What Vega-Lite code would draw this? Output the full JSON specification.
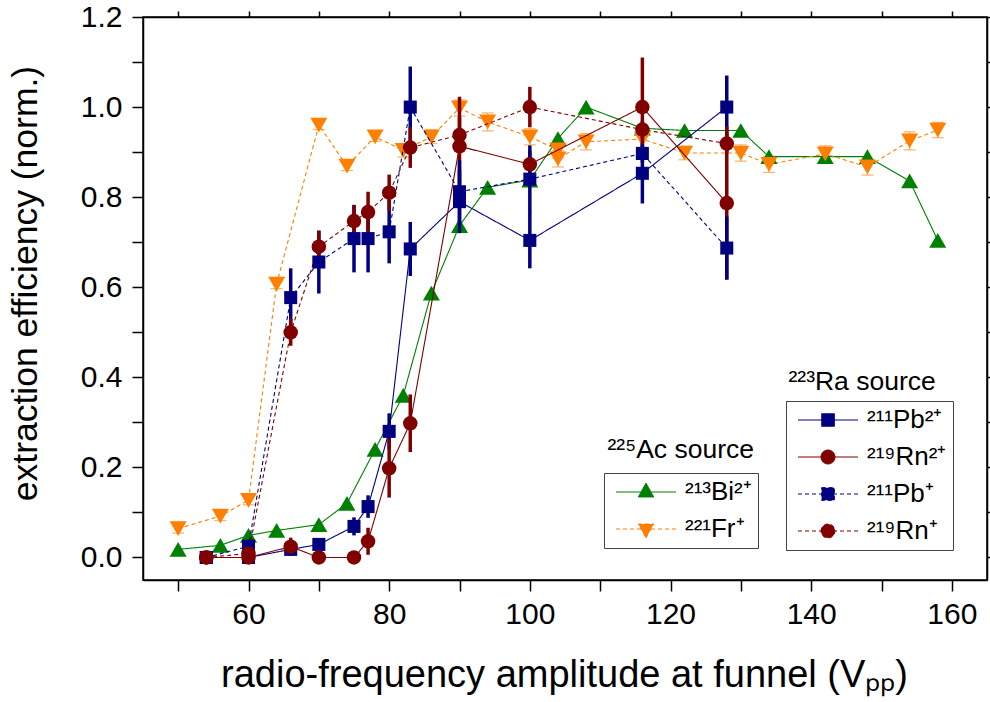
{
  "$schema": "https://vega.github.io/schema/vega-lite/v6.json",
  "width": 844,
  "height": 563,
  "autosize": {"type": "none"},
  "padding": {"left": 143, "top": 17, "right": 3, "bottom": 122},
  "config": {
    "font": "Liberation Sans",
    "view": {"stroke": "black", "strokeWidth": 1.5},
    "axis": {"grid": false, "domainColor": "black", "domainWidth": 1.5, "tickColor": "black", "tickWidth": 1.5, "labelColor": "black", "titleColor": "black", "labelFont": "Liberation Sans", "titleFont": "Liberation Sans", "titleFontWeight": "normal", "labelFontSize": 30, "titleFontSize": 31},
    "legend": {"labelFont": "Liberation Sans", "labelFontSize": 26, "labelColor": "black", "labelLimit": 0}
  },
  "datasets": {
    "ac": [
      {"ion": "²¹³Bi²⁺", "source": "²²⁵Ac source", "x": 50, "y": 0.018},
      {"ion": "²¹³Bi²⁺", "source": "²²⁵Ac source", "x": 56, "y": 0.027},
      {"ion": "²¹³Bi²⁺", "source": "²²⁵Ac source", "x": 60, "y": 0.049},
      {"ion": "²¹³Bi²⁺", "source": "²²⁵Ac source", "x": 64, "y": 0.06},
      {"ion": "²¹³Bi²⁺", "source": "²²⁵Ac source", "x": 70, "y": 0.073},
      {"ion": "²¹³Bi²⁺", "source": "²²⁵Ac source", "x": 74, "y": 0.12},
      {"ion": "²¹³Bi²⁺", "source": "²²⁵Ac source", "x": 78, "y": 0.24},
      {"ion": "²¹³Bi²⁺", "source": "²²⁵Ac source", "x": 82, "y": 0.36},
      {"ion": "²¹³Bi²⁺", "source": "²²⁵Ac source", "x": 86, "y": 0.587},
      {"ion": "²¹³Bi²⁺", "source": "²²⁵Ac source", "x": 90, "y": 0.737},
      {"ion": "²¹³Bi²⁺", "source": "²²⁵Ac source", "x": 94, "y": 0.822},
      {"ion": "²¹³Bi²⁺", "source": "²²⁵Ac source", "x": 100, "y": 0.838},
      {"ion": "²¹³Bi²⁺", "source": "²²⁵Ac source", "x": 104, "y": 0.93},
      {"ion": "²¹³Bi²⁺", "source": "²²⁵Ac source", "x": 108, "y": 1.0},
      {"ion": "²¹³Bi²⁺", "source": "²²⁵Ac source", "x": 116, "y": 0.953},
      {"ion": "²¹³Bi²⁺", "source": "²²⁵Ac source", "x": 122, "y": 0.948},
      {"ion": "²¹³Bi²⁺", "source": "²²⁵Ac source", "x": 130, "y": 0.948},
      {"ion": "²¹³Bi²⁺", "source": "²²⁵Ac source", "x": 134, "y": 0.89},
      {"ion": "²¹³Bi²⁺", "source": "²²⁵Ac source", "x": 142, "y": 0.89},
      {"ion": "²¹³Bi²⁺", "source": "²²⁵Ac source", "x": 148, "y": 0.89},
      {"ion": "²¹³Bi²⁺", "source": "²²⁵Ac source", "x": 154, "y": 0.836},
      {"ion": "²¹³Bi²⁺", "source": "²²⁵Ac source", "x": 158, "y": 0.704},
      {"ion": "²²¹Fr⁺", "source": "²²⁵Ac source", "x": 50, "y": 0.064, "lo": 0.054, "hi": 0.074},
      {"ion": "²²¹Fr⁺", "source": "²²⁵Ac source", "x": 56, "y": 0.092, "lo": 0.082, "hi": 0.102},
      {"ion": "²²¹Fr⁺", "source": "²²⁵Ac source", "x": 60, "y": 0.127, "lo": 0.117, "hi": 0.137},
      {"ion": "²²¹Fr⁺", "source": "²²⁵Ac source", "x": 64, "y": 0.607, "lo": 0.597, "hi": 0.617},
      {"ion": "²²¹Fr⁺", "source": "²²⁵Ac source", "x": 70, "y": 0.96, "lo": 0.95, "hi": 0.97},
      {"ion": "²²¹Fr⁺", "source": "²²⁵Ac source", "x": 74, "y": 0.869, "lo": 0.859, "hi": 0.879},
      {"ion": "²²¹Fr⁺", "source": "²²⁵Ac source", "x": 78, "y": 0.934, "lo": 0.924, "hi": 0.944},
      {"ion": "²²¹Fr⁺", "source": "²²⁵Ac source", "x": 82, "y": 0.904, "lo": 0.889, "hi": 0.919},
      {"ion": "²²¹Fr⁺", "source": "²²⁵Ac source", "x": 86, "y": 0.934, "lo": 0.919, "hi": 0.949},
      {"ion": "²²¹Fr⁺", "source": "²²⁵Ac source", "x": 90, "y": 0.998, "lo": 0.98, "hi": 1.016},
      {"ion": "²²¹Fr⁺", "source": "²²⁵Ac source", "x": 94, "y": 0.967, "lo": 0.947, "hi": 0.987},
      {"ion": "²²¹Fr⁺", "source": "²²⁵Ac source", "x": 100, "y": 0.934, "lo": 0.916, "hi": 0.952},
      {"ion": "²²¹Fr⁺", "source": "²²⁵Ac source", "x": 104, "y": 0.905, "lo": 0.887, "hi": 0.923},
      {"ion": "²²¹Fr⁺", "source": "²²⁵Ac source", "x": 104, "y": 0.885, "lo": 0.867, "hi": 0.903},
      {"ion": "²²¹Fr⁺", "source": "²²⁵Ac source", "x": 108, "y": 0.923, "lo": 0.905, "hi": 0.941},
      {"ion": "²²¹Fr⁺", "source": "²²⁵Ac source", "x": 116, "y": 0.929, "lo": 0.911, "hi": 0.947},
      {"ion": "²²¹Fr⁺", "source": "²²⁵Ac source", "x": 122, "y": 0.898, "lo": 0.883, "hi": 0.913},
      {"ion": "²²¹Fr⁺", "source": "²²⁵Ac source", "x": 130, "y": 0.898, "lo": 0.88, "hi": 0.916},
      {"ion": "²²¹Fr⁺", "source": "²²⁵Ac source", "x": 134, "y": 0.873, "lo": 0.855, "hi": 0.891},
      {"ion": "²²¹Fr⁺", "source": "²²⁵Ac source", "x": 142, "y": 0.896, "lo": 0.878, "hi": 0.914},
      {"ion": "²²¹Fr⁺", "source": "²²⁵Ac source", "x": 148, "y": 0.867, "lo": 0.849, "hi": 0.885},
      {"ion": "²²¹Fr⁺", "source": "²²⁵Ac source", "x": 154, "y": 0.925, "lo": 0.905, "hi": 0.945},
      {"ion": "²²¹Fr⁺", "source": "²²⁵Ac source", "x": 158, "y": 0.949, "lo": 0.932, "hi": 0.966}
    ],
    "ra": [
      {"ion": "²¹¹Pb²⁺", "source": "²²³Ra source", "x": 54, "y": 0.0, "lo": -0.005, "hi": 0.005},
      {"ion": "²¹¹Pb²⁺", "source": "²²³Ra source", "x": 60, "y": 0.0, "lo": -0.005, "hi": 0.005},
      {"ion": "²¹¹Pb²⁺", "source": "²²³Ra source", "x": 66, "y": 0.018, "lo": 0.008, "hi": 0.028},
      {"ion": "²¹¹Pb²⁺", "source": "²²³Ra source", "x": 70, "y": 0.029, "lo": 0.019, "hi": 0.039},
      {"ion": "²¹¹Pb²⁺", "source": "²²³Ra source", "x": 75, "y": 0.069, "lo": 0.049, "hi": 0.089},
      {"ion": "²¹¹Pb²⁺", "source": "²²³Ra source", "x": 77, "y": 0.113, "lo": 0.088, "hi": 0.138},
      {"ion": "²¹¹Pb²⁺", "source": "²²³Ra source", "x": 80, "y": 0.28, "lo": 0.24, "hi": 0.32},
      {"ion": "²¹¹Pb²⁺", "source": "²²³Ra source", "x": 83, "y": 0.685, "lo": 0.625, "hi": 0.745},
      {"ion": "²¹¹Pb²⁺", "source": "²²³Ra source", "x": 90, "y": 0.79, "lo": 0.72, "hi": 0.86},
      {"ion": "²¹¹Pb²⁺", "source": "²²³Ra source", "x": 100, "y": 0.704, "lo": 0.642, "hi": 0.766},
      {"ion": "²¹¹Pb²⁺", "source": "²²³Ra source", "x": 116, "y": 0.853, "lo": 0.786, "hi": 0.92},
      {"ion": "²¹¹Pb²⁺", "source": "²²³Ra source", "x": 128, "y": 1.0, "lo": 0.93, "hi": 1.07},
      {"ion": "²¹⁹Rn²⁺", "source": "²²³Ra source", "x": 54, "y": 0.0, "lo": -0.005, "hi": 0.005},
      {"ion": "²¹⁹Rn²⁺", "source": "²²³Ra source", "x": 60, "y": 0.0, "lo": -0.005, "hi": 0.005},
      {"ion": "²¹⁹Rn²⁺", "source": "²²³Ra source", "x": 66, "y": 0.024, "lo": 0.004, "hi": 0.044},
      {"ion": "²¹⁹Rn²⁺", "source": "²²³Ra source", "x": 70, "y": 0.0, "lo": -0.005, "hi": 0.005},
      {"ion": "²¹⁹Rn²⁺", "source": "²²³Ra source", "x": 75, "y": 0.0, "lo": -0.005, "hi": 0.005},
      {"ion": "²¹⁹Rn²⁺", "source": "²²³Ra source", "x": 77, "y": 0.036, "lo": 0.006, "hi": 0.066},
      {"ion": "²¹⁹Rn²⁺", "source": "²²³Ra source", "x": 80, "y": 0.198, "lo": 0.133, "hi": 0.263},
      {"ion": "²¹⁹Rn²⁺", "source": "²²³Ra source", "x": 83, "y": 0.298, "lo": 0.234, "hi": 0.362},
      {"ion": "²¹⁹Rn²⁺", "source": "²²³Ra source", "x": 90, "y": 0.913, "lo": 0.803, "hi": 1.023},
      {"ion": "²¹⁹Rn²⁺", "source": "²²³Ra source", "x": 100, "y": 0.873, "lo": 0.843, "hi": 0.903},
      {"ion": "²¹⁹Rn²⁺", "source": "²²³Ra source", "x": 116, "y": 1.0, "lo": 0.89, "hi": 1.11},
      {"ion": "²¹⁹Rn²⁺", "source": "²²³Ra source", "x": 128, "y": 0.787, "lo": 0.617, "hi": 0.957},
      {"ion": "²¹¹Pb⁺", "source": "²²³Ra source", "x": 54, "y": 0.0, "lo": -0.005, "hi": 0.005},
      {"ion": "²¹¹Pb⁺", "source": "²²³Ra source", "x": 60, "y": 0.025, "lo": 0.015, "hi": 0.035},
      {"ion": "²¹¹Pb⁺", "source": "²²³Ra source", "x": 66, "y": 0.577, "lo": 0.512, "hi": 0.642},
      {"ion": "²¹¹Pb⁺", "source": "²²³Ra source", "x": 70, "y": 0.656, "lo": 0.586, "hi": 0.726},
      {"ion": "²¹¹Pb⁺", "source": "²²³Ra source", "x": 75, "y": 0.708, "lo": 0.633, "hi": 0.783},
      {"ion": "²¹¹Pb⁺", "source": "²²³Ra source", "x": 77, "y": 0.708, "lo": 0.633, "hi": 0.783},
      {"ion": "²¹¹Pb⁺", "source": "²²³Ra source", "x": 80, "y": 0.723, "lo": 0.653, "hi": 0.793},
      {"ion": "²¹¹Pb⁺", "source": "²²³Ra source", "x": 83, "y": 1.0, "lo": 0.91, "hi": 1.09},
      {"ion": "²¹¹Pb⁺", "source": "²²³Ra source", "x": 90, "y": 0.812, "lo": 0.742, "hi": 0.882},
      {"ion": "²¹¹Pb⁺", "source": "²²³Ra source", "x": 100, "y": 0.84, "lo": 0.765, "hi": 0.915},
      {"ion": "²¹¹Pb⁺", "source": "²²³Ra source", "x": 116, "y": 0.897, "lo": 0.877, "hi": 0.917},
      {"ion": "²¹¹Pb⁺", "source": "²²³Ra source", "x": 128, "y": 0.687, "lo": 0.617, "hi": 0.757},
      {"ion": "²¹⁹Rn⁺", "source": "²²³Ra source", "x": 54, "y": 0.0, "lo": -0.005, "hi": 0.005},
      {"ion": "²¹⁹Rn⁺", "source": "²²³Ra source", "x": 60, "y": 0.009, "lo": -0.001, "hi": 0.019},
      {"ion": "²¹⁹Rn⁺", "source": "²²³Ra source", "x": 66, "y": 0.5, "lo": 0.47, "hi": 0.53},
      {"ion": "²¹⁹Rn⁺", "source": "²²³Ra source", "x": 70, "y": 0.69, "lo": 0.655, "hi": 0.725},
      {"ion": "²¹⁹Rn⁺", "source": "²²³Ra source", "x": 75, "y": 0.747, "lo": 0.712, "hi": 0.782},
      {"ion": "²¹⁹Rn⁺", "source": "²²³Ra source", "x": 77, "y": 0.767, "lo": 0.722, "hi": 0.812},
      {"ion": "²¹⁹Rn⁺", "source": "²²³Ra source", "x": 80, "y": 0.81, "lo": 0.77, "hi": 0.85},
      {"ion": "²¹⁹Rn⁺", "source": "²²³Ra source", "x": 83, "y": 0.91, "lo": 0.865, "hi": 0.955},
      {"ion": "²¹⁹Rn⁺", "source": "²²³Ra source", "x": 90, "y": 0.938, "lo": 0.898, "hi": 0.978},
      {"ion": "²¹⁹Rn⁺", "source": "²²³Ra source", "x": 100, "y": 1.0, "lo": 0.955, "hi": 1.045},
      {"ion": "²¹⁹Rn⁺", "source": "²²³Ra source", "x": 116, "y": 0.95, "lo": 0.93, "hi": 0.97},
      {"ion": "²¹⁹Rn⁺", "source": "²²³Ra source", "x": 128, "y": 0.919, "lo": 0.899, "hi": 0.939}
    ]
  },
  "layer": [
    {
      "data": {"name": "ac"},
      "layer": [
        {
          "mark": {"type": "line", "strokeWidth": 1.1},
          "encoding": {
            "x": {"field": "x", "type": "quantitative", "title": "radio-frequency amplitude at funnel (Vₚₚ)", "scale": {"domain": [45, 165], "nice": false, "zero": false}},
            "y": {"field": "y", "type": "quantitative", "title": "extraction efficiency (norm.)", "scale": {"domain": [-0.05, 1.2], "nice": false, "zero": false}},
            "color": {"field": "ion", "type": "nominal", "scale": {"domain": ["²¹³Bi²⁺", "²²¹Fr⁺"], "range": ["#008000", "#ff8000"]}},
            "strokeDash": {"field": "ion", "type": "nominal", "scale": {"domain": ["²¹³Bi²⁺", "²²¹Fr⁺"], "range": [[1, 0], [4, 3]]}}
          }
        },
        {
          "transform": [{"filter": "isValid(datum.lo)"}],
          "mark": {"type": "errorbar", "color": "#ff8000", "ticks": {"opacity": 0.6}, "rule": {"opacity": 0.6, "strokeWidth": 1.2}, "size": 12, "thickness": 1.2},
          "encoding": {
            "x": {"field": "x", "type": "quantitative", "title": "radio-frequency amplitude at funnel (Vₚₚ)", "scale": {"domain": [45, 165], "nice": false, "zero": false}},
            "y": {"field": "lo", "type": "quantitative", "title": "extraction efficiency (norm.)", "scale": {"domain": [-0.05, 1.2], "nice": false, "zero": false}},
            "y2": {"field": "hi"}
          }
        },
        {
          "transform": [{"filter": {"field": "ion", "equal": "²¹³Bi²⁺"}}],
          "mark": {"type": "point", "shape": "triangle-up", "filled": true, "size": 290, "opacity": 1, "strokeWidth": 0},
          "encoding": {
            "x": {"field": "x", "type": "quantitative", "title": "radio-frequency amplitude at funnel (Vₚₚ)", "scale": {"domain": [45, 165], "nice": false, "zero": false},
              "axis": {"orient": "bottom", "values": [50, 60, 70, 80, 90, 100, 110, 120, 130, 140, 150, 160], "labelExpr": "datum.value % 20 === 0 ? datum.label : ''", "title": "radio-frequency amplitude at funnel (Vₚₚ)", "titleFontSize": 38, "tickSize": 11, "labelPadding": 8, "titleX": 421, "titleY": 106, "titleBaseline": "alphabetic", "titleAnchor": "middle", "titleAlign": "center",
                "encode": {"ticks": {"y2": {"value": {"expr": "datum.value % 20 === 0 ? 11 : 5"}}}}}},
            "y": {"field": "y", "type": "quantitative", "title": "extraction efficiency (norm.)", "scale": {"domain": [-0.05, 1.2], "nice": false, "zero": false},
              "axis": {"orient": "left", "values": [0, 0.1, 0.2, 0.3, 0.4, 0.5, 0.6, 0.7, 0.8, 0.9, 1.0, 1.1, 1.2], "format": ".1f", "labelExpr": "round(datum.value * 10) % 2 === 0 ? datum.label : ''", "title": "extraction efficiency (norm.)", "titleFontSize": 35.5, "tickSize": 11, "labelPadding": 10, "titleX": -107, "titleY": 266, "titleBaseline": "alphabetic", "titleAngle": -90, "titleAlign": "center",
                "encode": {"ticks": {"x2": {"value": {"expr": "round(datum.value * 10) % 2 === 0 ? -11 : -6"}}}}}},
            "color": {"field": "ion", "type": "nominal", "scale": {"domain": ["²¹³Bi²⁺", "²²¹Fr⁺"], "range": ["#008000", "#ff8000"]}},
            "opacity": {"field": "source", "type": "ordinal", "scale": {"domain": ["²²⁵Ac source"], "range": [1, 1]},
              "legend": {"title": null, "orient": "none", "legendX": 438, "legendY": 420, "padding": 0, "symbolSize": 0, "symbolOpacity": 0, "symbolOffset": 0, "labelOffset": 0, "labelFontSize": 26.5}}
          }
        },
        {
          "transform": [{"filter": {"field": "ion", "equal": "²²¹Fr⁺"}}],
          "mark": {"type": "point", "shape": "triangle-down", "filled": true, "size": 290, "opacity": 1, "strokeWidth": 0},
          "encoding": {
            "x": {"field": "x", "type": "quantitative", "title": "radio-frequency amplitude at funnel (Vₚₚ)", "scale": {"domain": [45, 165], "nice": false, "zero": false}},
            "y": {"field": "y", "type": "quantitative", "title": "extraction efficiency (norm.)", "scale": {"domain": [-0.05, 1.2], "nice": false, "zero": false}},
            "color": {"field": "ion", "type": "nominal", "scale": {"domain": ["²¹³Bi²⁺", "²²¹Fr⁺"], "range": ["#008000", "#ff8000"]}}
          }
        },
        {
          "mark": {"type": "point", "filled": true, "opacity": 0},
          "encoding": {
            "x": {"field": "x", "type": "quantitative", "title": "radio-frequency amplitude at funnel (Vₚₚ)", "scale": {"domain": [45, 165], "nice": false, "zero": false}},
            "y": {"field": "y", "type": "quantitative", "title": "extraction efficiency (norm.)", "scale": {"domain": [-0.05, 1.2], "nice": false, "zero": false}},
            "color": {"field": "ion", "type": "nominal", "scale": {"domain": ["²¹³Bi²⁺", "²²¹Fr⁺"], "range": ["#008000", "#ff8000"]},
              "legend": {"title": null, "orient": "none", "legendX": 461, "legendY": 456, "strokeColor": "#444444", "fillColor": "#ffffff", "padding": 6, "symbolSize": 100, "symbolStrokeWidth": 1, "symbolOpacity": 1, "symbolOffset": 23, "labelOffset": 26, "rowPadding": 11}},
            "shape": {"field": "ion", "type": "nominal", "scale": {"domain": ["²¹³Bi²⁺", "²²¹Fr⁺"], "range": ["M-6,0H6M0,-1.8L1.55,1.0H-1.55Z", "M-6,0H6M0,1.8L1.55,-1.0H-1.55Z"]}}
          }
        }
      ]
    },
    {
      "data": {"name": "ra"},
      "layer": [
        {
          "mark": {"type": "line", "strokeWidth": 1.1},
          "encoding": {
            "x": {"field": "x", "type": "quantitative", "scale": {"domain": [45, 165], "nice": false, "zero": false}},
            "y": {"field": "y", "type": "quantitative", "scale": {"domain": [-0.05, 1.2], "nice": false, "zero": false}},
            "color": {"field": "ion", "type": "nominal", "scale": {"domain": ["²¹¹Pb²⁺", "²¹⁹Rn²⁺", "²¹¹Pb⁺", "²¹⁹Rn⁺"], "range": ["#000080", "#800000", "#000080", "#800000"]}},
            "strokeDash": {"field": "ion", "type": "nominal", "scale": {"domain": ["²¹¹Pb²⁺", "²¹⁹Rn²⁺", "²¹¹Pb⁺", "²¹⁹Rn⁺"], "range": [[1, 0], [1, 0], [4, 3], [4, 3]]}}
          }
        },
        {
          "mark": {"type": "rule", "strokeWidth": 3.5},
          "encoding": {
            "x": {"field": "x", "type": "quantitative", "scale": {"domain": [45, 165], "nice": false, "zero": false}},
            "y": {"field": "lo", "type": "quantitative", "scale": {"domain": [-0.05, 1.2], "nice": false, "zero": false}},
            "y2": {"field": "hi"},
            "color": {"field": "ion", "type": "nominal", "scale": {"domain": ["²¹¹Pb²⁺", "²¹⁹Rn²⁺", "²¹¹Pb⁺", "²¹⁹Rn⁺"], "range": ["#000080", "#800000", "#000080", "#800000"]}}
          }
        },
        {
          "transform": [{"filter": {"field": "ion", "oneOf": ["²¹¹Pb²⁺", "²¹¹Pb⁺"]}}],
          "mark": {"type": "point", "shape": "square", "filled": true, "size": 170, "opacity": 1, "strokeWidth": 0},
          "encoding": {
            "x": {"field": "x", "type": "quantitative", "scale": {"domain": [45, 165], "nice": false, "zero": false},
              "axis": {"orient": "top", "values": [50, 60, 70, 80, 90, 100, 110, 120, 130, 140, 150, 160], "labels": false, "title": null, "tickSize": 6,
                "encode": {"ticks": {"y2": {"value": 6}}}}},
            "y": {"field": "y", "type": "quantitative", "scale": {"domain": [-0.05, 1.2], "nice": false, "zero": false},
              "axis": {"orient": "right", "values": [0, 0.1, 0.2, 0.3, 0.4, 0.5, 0.6, 0.7, 0.8, 0.9, 1.0, 1.1, 1.2], "labels": false, "title": null, "tickSize": 6,
                "encode": {"ticks": {"x2": {"value": -6}}}}},
            "color": {"field": "ion", "type": "nominal", "scale": {"domain": ["²¹¹Pb²⁺", "²¹⁹Rn²⁺", "²¹¹Pb⁺", "²¹⁹Rn⁺"], "range": ["#000080", "#800000", "#000080", "#800000"]}},
            "opacity": {"field": "source", "type": "ordinal", "scale": {"domain": ["²²³Ra source"], "range": [1, 1]},
              "legend": {"title": null, "orient": "none", "legendX": 619, "legendY": 352, "padding": 0, "symbolSize": 0, "symbolOpacity": 0, "symbolOffset": 0, "labelOffset": 0, "labelFontSize": 26.5}}
          }
        },
        {
          "transform": [{"filter": {"field": "ion", "oneOf": ["²¹⁹Rn²⁺", "²¹⁹Rn⁺"]}}],
          "mark": {"type": "point", "shape": "circle", "filled": true, "size": 210, "opacity": 1, "strokeWidth": 0},
          "encoding": {
            "x": {"field": "x", "type": "quantitative", "scale": {"domain": [45, 165], "nice": false, "zero": false}},
            "y": {"field": "y", "type": "quantitative", "scale": {"domain": [-0.05, 1.2], "nice": false, "zero": false}},
            "color": {"field": "ion", "type": "nominal", "scale": {"domain": ["²¹¹Pb²⁺", "²¹⁹Rn²⁺", "²¹¹Pb⁺", "²¹⁹Rn⁺"], "range": ["#000080", "#800000", "#000080", "#800000"]}}
          }
        },
        {
          "mark": {"type": "point", "filled": true, "opacity": 0},
          "encoding": {
            "x": {"field": "x", "type": "quantitative", "scale": {"domain": [45, 165], "nice": false, "zero": false}},
            "y": {"field": "y", "type": "quantitative", "scale": {"domain": [-0.05, 1.2], "nice": false, "zero": false}},
            "color": {"field": "ion", "type": "nominal", "scale": {"domain": ["²¹¹Pb²⁺", "²¹⁹Rn²⁺", "²¹¹Pb⁺", "²¹⁹Rn⁺"], "range": ["#000080", "#800000", "#000080", "#800000"]},
              "legend": {"title": null, "orient": "none", "legendX": 643, "legendY": 384, "strokeColor": "#444444", "fillColor": "#ffffff", "padding": 6, "symbolSize": 100, "symbolStrokeWidth": 1, "symbolOpacity": 1, "symbolOffset": 23, "labelOffset": 26, "rowPadding": 11}},
            "shape": {"field": "ion", "type": "nominal", "scale": {"domain": ["²¹¹Pb²⁺", "²¹⁹Rn²⁺", "²¹¹Pb⁺", "²¹⁹Rn⁺"], "range": ["M-6,0H6M-1.27,-1.27H1.27V1.27H-1.27Z", "M-6,0H6M-1.4,0A1.4,1.4,0,1,1,1.4,0A1.4,1.4,0,1,1,-1.4,0Z", "M-6,0H6M-1.27,-1.27H1.27V1.27H-1.27Z", "M-6,0H6M-1.4,0A1.4,1.4,0,1,1,1.4,0A1.4,1.4,0,1,1,-1.4,0Z"]}}
          }
        }
      ]
    }
  ],
  "resolve": {
    "scale": {"color": "independent", "shape": "independent", "strokeDash": "independent", "opacity": "independent"},
    "axis": {"x": "independent", "y": "independent"}
  }
}
